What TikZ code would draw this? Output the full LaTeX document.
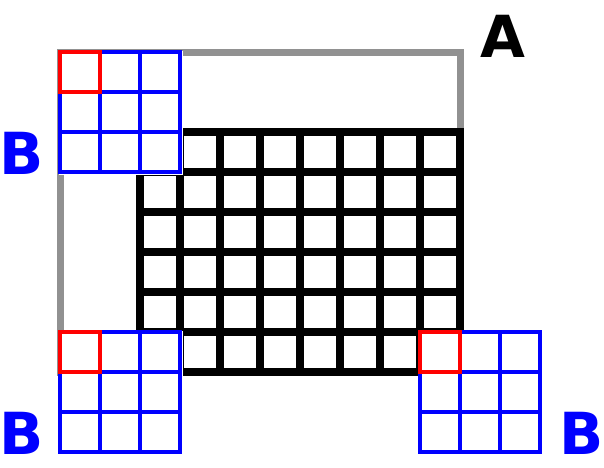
\documentclass[tikz,border=0pt]{standalone}
\usepackage{fontspec}
\setmainfont{DejaVu Sans}
\begin{document}
\begin{tikzpicture}[x=1pt,y=-1pt,
  outerframe/.style={draw={rgb,255:red,145;green,145;blue,145},line width=7pt},
  blackgrid/.style={draw=black,line width=8pt},
  bluegrid/.style={draw=blue,line width=4pt},
  redcell/.style={draw=red,line width=4pt},
  cover/.style={fill=white},
  lbl/.style={font=\fontsize{58}{58}\selectfont\bfseries,inner sep=0pt,anchor=center}]
\useasboundingbox (0,0) rectangle (604,467);
\draw[outerframe] (60.5,52.5) rectangle (460,372);
\foreach \gx in {180,220,...,420}{\draw[blackgrid] (\gx,132) -- (\gx,372);}
\foreach \gy in {172,212,...,332}{\draw[blackgrid] (140,\gy) -- (460,\gy);}
\draw[blackgrid] (140,132) rectangle (460,372);
\foreach \ox/\oy in {60/52,60/332,420/332}{
  \fill[cover] (\ox-1,\oy-1) rectangle (\ox+123,\oy+123);
  \foreach \k in {40,80}{
    \draw[bluegrid] (\ox+\k,\oy) -- (\ox+\k,\oy+120);
    \draw[bluegrid] (\ox,\oy+\k) -- (\ox+120,\oy+\k);
  }
  \draw[bluegrid] (\ox,\oy) rectangle (\ox+120,\oy+120);
  \draw[redcell] (\ox,\oy) rectangle (\ox+40,\oy+40);
}
\node[lbl,text=black] (labA) at (503,36) {A};
\node[lbl,text=blue] (labB1) at (22,153) {B};
\node[lbl,text=blue] (labB2) at (22,433) {B};
\node[lbl,text=blue] (labB3) at (582,433) {B};
\end{tikzpicture}
\end{document}
